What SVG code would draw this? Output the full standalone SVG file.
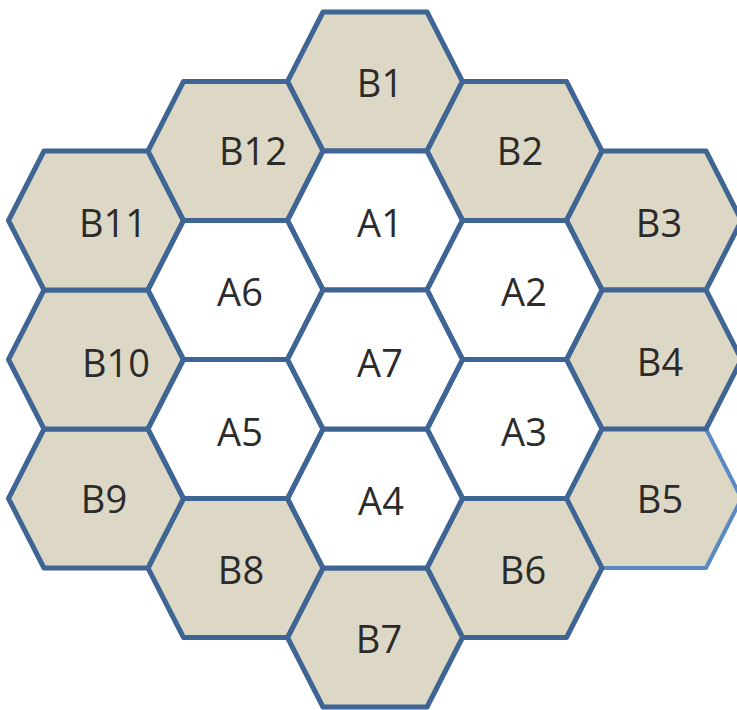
<svg xmlns="http://www.w3.org/2000/svg" xmlns:xlink="http://www.w3.org/1999/xlink" width="737" height="710" viewBox="0 0 737 710">
<style>
.b{fill:#ddd8c5;stroke:#3f6594;stroke-width:5;stroke-linejoin:round}
.a{fill:#ffffff;stroke:#3f6594;stroke-width:5;stroke-linejoin:round}
.b5{fill:#ddd8c5;stroke:#5a8ac4;stroke-width:4;stroke-linejoin:round}
text{font-family:"Open Sans","Liberation Sans",sans-serif;font-size:38px;fill:#2b2b2b;text-anchor:middle}
</style>
<defs>
<polygon id="hex" points="-87.5,0 -52,-69.5 52,-69.5 87.5,0 52,69.5 -52,69.5"/>
</defs>
<rect width="737" height="710" fill="#ffffff"/>
<g id="B5"><use xlink:href="#hex" href="#hex" class="b5" x="654" y="498.5"/><text x="660" y="513">B5</text></g>
<g id="B1"><use xlink:href="#hex" href="#hex" class="b" x="375" y="81.5"/><text x="380" y="97">B1</text></g>
<g id="B2"><use xlink:href="#hex" href="#hex" class="b" x="514.5" y="151"/><text x="520" y="165">B2</text></g>
<g id="B3"><use xlink:href="#hex" href="#hex" class="b" x="654" y="220.5"/><text x="659" y="237">B3</text></g>
<g id="B4"><use xlink:href="#hex" href="#hex" class="b" x="654" y="359.5"/><text x="660" y="376">B4</text></g>
<g id="B6"><use xlink:href="#hex" href="#hex" class="b" x="514.5" y="568"/><text x="523" y="584">B6</text></g>
<g id="B7"><use xlink:href="#hex" href="#hex" class="b" x="375" y="637.5"/><text x="379" y="653">B7</text></g>
<g id="B8"><use xlink:href="#hex" href="#hex" class="b" x="235.5" y="568"/><text x="241" y="584">B8</text></g>
<g id="B9"><use xlink:href="#hex" href="#hex" class="b" x="96" y="498.5"/><text x="104" y="513">B9</text></g>
<g id="B10"><use xlink:href="#hex" href="#hex" class="b" x="96" y="359.5"/><text x="116" y="377">B10</text></g>
<g id="B11"><use xlink:href="#hex" href="#hex" class="b" x="96" y="220.5"/><text x="113" y="237">B11</text></g>
<g id="B12"><use xlink:href="#hex" href="#hex" class="b" x="235.5" y="151"/><text x="253" y="165">B12</text></g>
<g id="A1"><use xlink:href="#hex" href="#hex" class="a" x="375" y="220.5"/><text x="380" y="237">A1</text></g>
<g id="A2"><use xlink:href="#hex" href="#hex" class="a" x="514.5" y="290"/><text x="524" y="306">A2</text></g>
<g id="A3"><use xlink:href="#hex" href="#hex" class="a" x="514.5" y="429"/><text x="524" y="446">A3</text></g>
<g id="A4"><use xlink:href="#hex" href="#hex" class="a" x="375" y="498.5"/><text x="381" y="515">A4</text></g>
<g id="A5"><use xlink:href="#hex" href="#hex" class="a" x="235.5" y="429"/><text x="240" y="446">A5</text></g>
<g id="A6"><use xlink:href="#hex" href="#hex" class="a" x="235.5" y="290"/><text x="240" y="306">A6</text></g>
<g id="A7"><use xlink:href="#hex" href="#hex" class="a" x="375" y="359.5"/><text x="380" y="377">A7</text></g>
<g id="connectors"/>
</svg>
